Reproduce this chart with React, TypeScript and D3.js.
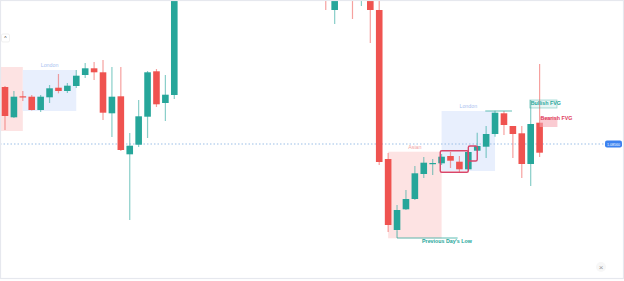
import React, { useEffect } from "react";
import * as d3 from "d3";

const W = 624;
const H = 281;

// bar numbers (bars 20-35 and 38 sit entirely above the visible price range)
const barIndex = [0,1,2,3,4,5,6,7,8,9,10,11,12,13,14,15,16,17,18,19,36,37,39,40,41,42,43,44,45,46,47,48,49,50,51,52,53,54,55,56,57,58,59,60];
const opens = [1.0913,1.08827,1.09037,1.09033,1.089,1.09027,1.09123,1.0909,1.0914,1.0925,1.09317,1.09277,1.08867,1.09037,1.08457,1.08553,1.08833,1.09287,1.0897,1.0905,1.1015,1.099,1.102,1.1005,1.101,1.099,1.0841,1.077,1.07907,1.0801,1.0826,1.08365,1.08367,1.0844,1.08383,1.08307,1.08493,1.08533,1.0866,1.08867,1.0874,1.08667,1.0836,1.08773];
const highs = [1.0914,1.0909,1.0909,1.0905,1.0905,1.0915,1.0926,1.0917,1.093,1.0937,1.0938,1.094,1.0933,1.0933,1.0867,1.09,1.0929,1.0931,1.0925,1.1025,1.102,1.1015,1.1025,1.102,1.1015,1.1003,1.0847,1.0795,1.081,1.0834,1.0843,1.0841,1.0846,1.0848,1.0844,1.085,1.08673,1.0874,1.08893,1.0889,1.0874,1.0874,1.09,1.0936];
const lows = [1.087,1.0882,1.0899,1.08895,1.0888,1.0897,1.09067,1.0907,1.0912,1.0922,1.092,1.088,1.0863,1.0849,1.078,1.0853,1.0862,1.0893,1.0879,1.0901,1.099,1.0976,1.0981,1.0994,1.0957,1.0835,1.0768,1.0769,1.079,1.08,1.0822,1.0825,1.0835,1.0832,1.0828,1.0829,1.0849,1.0842,1.08633,1.0865,1.0842,1.0822,1.0814,1.0843];
const closes = [1.0884,1.09033,1.09027,1.089,1.09033,1.09117,1.0909,1.09143,1.09243,1.09317,1.09277,1.08873,1.09033,1.085,1.08543,1.08837,1.09277,1.08957,1.09053,1.102,1.1005,1.101,1.101,1.1015,1.099,1.0838,1.0775,1.079,1.0801,1.08267,1.08373,1.0837,1.08433,1.08393,1.08307,1.0848,1.0854,1.0866,1.08873,1.0875,1.0866,1.0836,1.0876,1.08473];

// sessions
const sessionNames = ["Asian", "London", "Asian", "London"];
const sessionStart = [-6, 2, 43, 49];
const sessionEnd = [2, 8, 49, 55];
const sessionTop = [1.0933, 1.093, 1.08483, 1.0889];
const sessionBottom = [1.0869, 1.0889, 1.07617, 1.0829];

// outlined order-block boxes
const boxStart = [48.85, 52];
const boxEnd = [52, 53];
const boxTop = [1.08493, 1.0854];
const boxBottom = [1.08277, 1.0839];

const currentPrice = 1.0856;
const currentPriceLabel = "1.08560";
const prevDayLow = 1.0762;
const prevDayLowBar = 44;
const swingHigh = 1.0889;
const fvgBull = { start: 58.9, end: 61.95, top: 1.09, bottom: 1.0892, label: "Bullish FVG" };
const fvgBear = { start: 60, end: 62, top: 1.0883, bottom: 1.0873, label: "Bearish FVG" };

const UP = "#26a69a";
const DOWN = "#ef5350";

export default function App() {
  useEffect(() => {
    document.body.style.margin = "0";
  }, []);

  const x = d3.scaleLinear().domain([0, 60]).range([5, 539.6]);
  const y = d3.scaleLinear().domain([1.1, 1.0719]).range([0, H]);
  const bw = 6.6;
  const font = "'Liberation Sans', Arial, sans-serif";

  const candles = barIndex.map((b, i) => ({ b, o: opens[i], h: highs[i], l: lows[i], c: closes[i] }));

  return (
    <svg width={W} height={H} style={{ display: "block" }} fontFamily={font}>
      <rect x={0} y={0} width={W} height={H} fill="#ffffff" />
      {/* sessions */}
      {sessionNames.map((n, i) => {
        const x0 = Math.max(x(sessionStart[i]), 0);
        const x1 = x(sessionEnd[i]);
        const isAsian = n === "Asian";
        const cx = (x(sessionStart[i]) + x1) / 2;
        return (
          <g key={"s" + i}>
            <rect x={x0} y={y(sessionTop[i])} width={x1 - x0} height={y(sessionBottom[i]) - y(sessionTop[i])}
              fill={isAsian ? "#fde3e3" : "#e8effd"} />
            {cx > 12 && (
              <text x={cx} y={y(sessionTop[i]) - 3} textAnchor="middle" fontSize={5.3}
                fill={isAsian ? "#f2a3a3" : "#a9bff0"}>{n}</text>
            )}
          </g>
        );
      })}
      {/* current price line */}
      <line x1={0} x2={605} y1={y(currentPrice)} y2={y(currentPrice)} stroke="#9cc0e8" strokeWidth={1.2} strokeDasharray="1.5 2" />
      {/* candles */}
      {candles.map((d) => {
        const up = d.c >= d.o;
        const col = up ? UP : DOWN;
        const cx = x(d.b);
        const top = y(Math.max(d.o, d.c));
        const bot = y(Math.min(d.o, d.c));
        return (
          <g key={"c" + d.b}>
            <line x1={cx} x2={cx} y1={y(d.h)} y2={y(d.l)} stroke={col} strokeOpacity={0.55} strokeWidth={1.2} />
            <rect x={cx - bw / 2} y={top} width={bw} height={Math.max(bot - top, 1.2)} fill={col} />
          </g>
        );
      })}
      {/* order-block boxes */}
      {boxStart.map((s, i) => (
        <rect key={"b" + i} x={x(s)} y={y(boxTop[i])} width={x(boxEnd[i]) - x(s)} height={y(boxBottom[i]) - y(boxTop[i])}
          rx={1.5} fill="none" stroke="#d9466a" strokeWidth={1.4} />
      ))}
      {/* previous day's low */}
      <path d={`M${x(prevDayLowBar)},${y(lows[barIndex.indexOf(prevDayLowBar)])}V${y(prevDayLow)}H${x(50.8)}`}
        fill="none" stroke={UP} strokeOpacity={0.75} strokeWidth={1} />
      <text x={x(prevDayLowBar) + 25} y={y(prevDayLow) + 4.5} fontSize={5.3} fontWeight="bold" fill={UP}>Previous Day's Low</text>
      {/* swing high */}
      <line x1={x(53.9)} x2={x(56.9)} y1={y(swingHigh)} y2={y(swingHigh)} stroke={UP} strokeOpacity={0.6} strokeWidth={1.2} />
      {/* FVGs */}
      <rect x={x(fvgBull.start)} y={y(fvgBull.top)} width={x(fvgBull.end) - x(fvgBull.start)} height={y(fvgBull.bottom) - y(fvgBull.top)}
        fill="#26a69a" fillOpacity={0.1} stroke={UP} strokeOpacity={0.45} strokeWidth={0.8} />
      <text x={x(fvgBull.start) + 1} y={y(fvgBull.top) + 5} fontSize={5.3} fontWeight="bold" fill={UP}>{fvgBull.label}</text>
      <rect x={x(fvgBear.start)} y={y(fvgBear.top)} width={x(fvgBear.end) - x(fvgBear.start)} height={y(fvgBear.bottom) - y(fvgBear.top)}
        fill="#f7a9b4" fillOpacity={0.6} />
      <text x={x(fvgBear.start) + 1} y={y(fvgBear.top) + 3} fontSize={5.3} fontWeight="bold" fill="#e0405e">{fvgBear.label}</text>
      {/* price label */}
      <rect x={605} y={y(currentPrice) - 3.5} width={17} height={7} rx={2} fill="#3b82f0" />
      <text x={613.5} y={y(currentPrice) + 1.5} textAnchor="middle" fontSize={3.6} fill="#ffffff">{currentPriceLabel}</text>
      {/* top-left control */}
      <rect x={1.5} y={34} width={8} height={8} rx={1.5} fill="#ffffff" stroke="#e6e6e6" strokeWidth={0.6} />
      <text x={5.5} y={40} textAnchor="middle" fontSize={5} fill="#333">^</text>
      {/* close button */}
      <circle cx={601} cy={267} r={5} fill="#f7f7f7" />
      <text x={601} y={269.5} textAnchor="middle" fontSize={8} fill="#9a9a9a">×</text>
      {/* frame */}
      <rect x={0.5} y={0.5} width={W - 1} height={H - 3} fill="none" stroke="#e6e8ee" strokeWidth={1.2} />
    </svg>
  );
}
